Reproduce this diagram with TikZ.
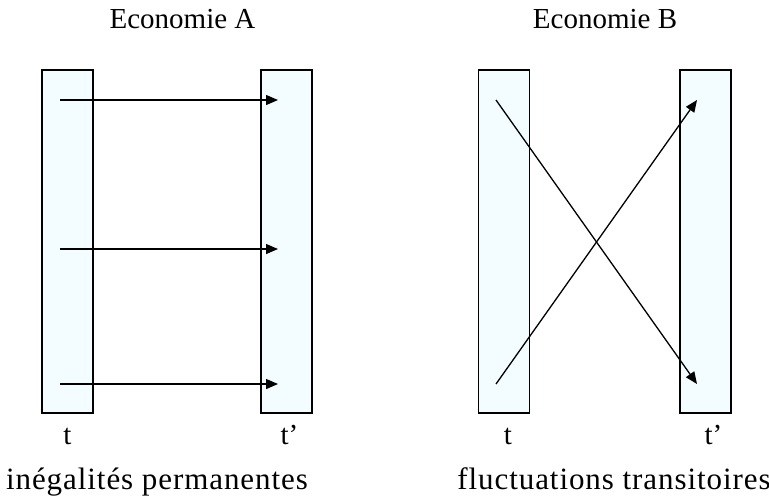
\documentclass[tikz,border=0pt]{standalone}
\usepackage{fontspec}
\setmainfont{Liberation Serif}
\usetikzlibrary{arrows.meta,positioning}
\definecolor{barfill}{RGB}{243,252,255}

\begin{document}
\begin{tikzpicture}[x=0.5pt,y=-0.5pt,
  bar/.style={draw,fill=barfill,line width=0.7pt,minimum width=25.5pt,minimum height=171.5pt,inner sep=0pt},
  flow/.style={line width=0.65pt,-{Triangle[length=6pt,width=5pt]}},
  lbl/.style={font=\fontsize{14.5}{17}\selectfont,inner sep=0pt},
  big/.style={font=\fontsize{15.5}{18}\selectfont\addfontfeature{LetterSpace=3},inner sep=0pt,anchor=base}]
\useasboundingbox (0,0) rectangle (769,499);
% Economie A
\node[lbl,anchor=base] (titA) at (182.5,28) {Economie A};
\node[bar] (barAl) at (67.5,241.5) {};
\node[bar] (barAr) at (286.5,241.5) {};
\coordinate (as1) at (60,100);  \coordinate (ae1) at (278,100);
\coordinate (as2) at (60,249);  \coordinate (ae2) at (278,249);
\coordinate (as3) at (60,384);  \coordinate (ae3) at (278,384);
\draw[flow] (as1) -- (ae1);
\draw[flow] (as2) -- (ae2);
\draw[flow] (as3) -- (ae3);
\node[lbl,text height=1.6ex,below=8pt of barAl] (tAl) {t};
\node[lbl,text height=1.6ex,below=8pt of barAr,xshift=1.5pt] (tAr) {t'};
\node[big] (txtA) at (157,489) {inégalités permanentes};
% Economie B
\node[lbl,anchor=base] (titB) at (605,28) {Economie B};
\node[bar] (barBl) at (504,241.5) {};
\node[bar] (barBr) at (705.5,241.5) {};
\coordinate (bs1) at (496,100);  \coordinate (be1) at (697,384);
\coordinate (bs2) at (496,384);  \coordinate (be2) at (697,100);
\draw[flow] (bs1) -- (be1);
\draw[flow] (bs2) -- (be2);
\node[lbl,text height=1.6ex,below=8pt of barBl,xshift=2pt] (tBl) {t};
\node[lbl,text height=1.6ex,below=8pt of barBr,xshift=4pt] (tBr) {t'};
\node[big] (txtB) at (614,489) {fluctuations transitoires};
\end{tikzpicture}
\end{document}
